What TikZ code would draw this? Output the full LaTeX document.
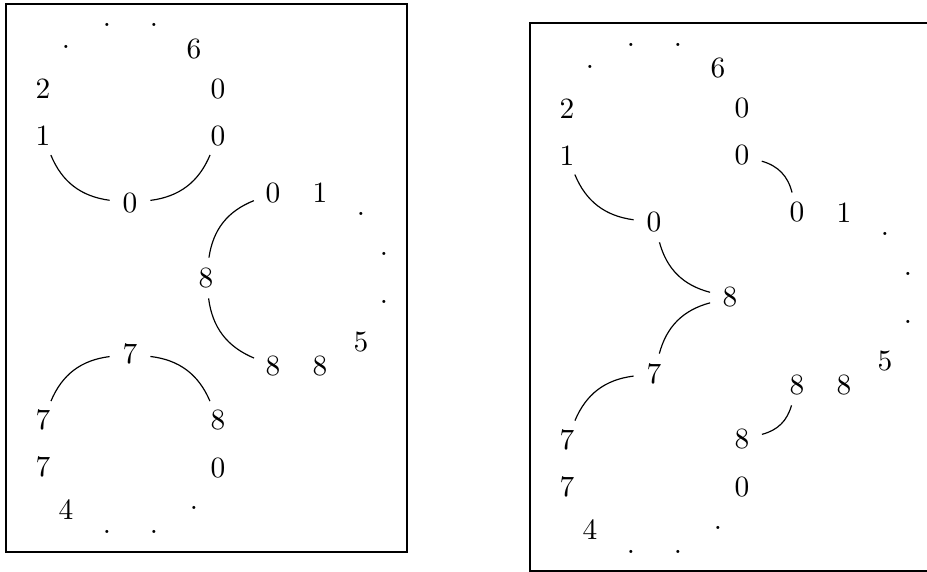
\documentclass[tikz,border=0pt]{standalone}
\tikzset{
  nd/.style={circle, minimum size=13.6pt, inner sep=0pt},
  conn/.style={line width=0.4pt},
  frame/.style={line width=0.45pt}
}
\newcommand{\mynecklace}[1]{%
  % top circle
  \node[nd] (#1td1) at (66,47) {.};
  \node[nd] (#1td2) at (107,25) {.};
  \node[nd] (#1td3) at (154,25) {.};
  \node[nd] (#1t6) at (194,49) {6};
  \node[nd] (#1t2) at (43,89) {2};
  \node[nd] (#1tr0a) at (218,89) {0};
  \node[nd] (#1t1) at (43,136) {1};
  \node[nd] (#1tr0b) at (218,136) {0};
  \node[nd] (#1tb0) at (130,203) {0};
  % middle circle
  \node[nd] (#1m0) at (273,193) {0};
  \node[nd] (#1m1) at (320,193) {1};
  \node[nd] (#1md1) at (361,214) {.};
  \node[nd] (#1md2) at (384,254) {.};
  \node[nd] (#1m8) at (206,278) {8};
  \node[nd] (#1md3) at (384,302) {.};
  \node[nd] (#1m5) at (361,342) {5};
  \node[nd] (#1m8a) at (273,366) {8};
  \node[nd] (#1m8b) at (320,366) {8};
  % bottom circle
  \node[nd] (#1b7t) at (130,354) {7};
  \node[nd] (#1b7a) at (43,420) {7};
  \node[nd] (#1b8) at (218,420) {8};
  \node[nd] (#1b7b) at (43,467) {7};
  \node[nd] (#1b0) at (218,468) {0};
  \node[nd] (#1b4) at (66,510) {4};
  \node[nd] (#1bd1) at (194,508) {.};
  \node[nd] (#1bd2) at (107,532) {.};
  \node[nd] (#1bd3) at (154,532) {.};
}
\begin{document}
\begin{tikzpicture}[x=0.34pt, y=-0.34pt]
  \useasboundingbox (0,0) rectangle (927,572);
  % frames
  \draw[frame] (6,4) rectangle (407,552);
  \draw[frame] (530,23) rectangle (935,571);
  % left picture
  \mynecklace{L}
  \draw[conn] (Lt1) to[bend right=30] (Ltb0);
  \draw[conn] (Ltb0) to[bend right=30] (Ltr0b);
  \draw[conn] (Lm0) to[bend right=30] (Lm8);
  \draw[conn] (Lm8) to[bend right=30] (Lm8a);
  \draw[conn] (Lb7t) to[bend right=30] (Lb7a);
  \draw[conn] (Lb7t) to[bend left=30] (Lb8);
  % right picture
  \begin{scope}[shift={(524,19.5)}]
    \mynecklace{R}
  \end{scope}
  \draw[conn] (Rt1) to[bend right=30] (Rtb0);
  \draw[conn] (Rtb0) to[bend right=30] (Rm8);
  \draw[conn] (Rtr0b) to[bend left=30] (Rm0);
  \draw[conn] (Rm8) to[bend right=30] (Rb7t);
  \draw[conn] (Rb7t) to[bend right=30] (Rb7a);
  \draw[conn] (Rm8a) to[bend left=30] (Rb8);
\end{tikzpicture}
\end{document}
